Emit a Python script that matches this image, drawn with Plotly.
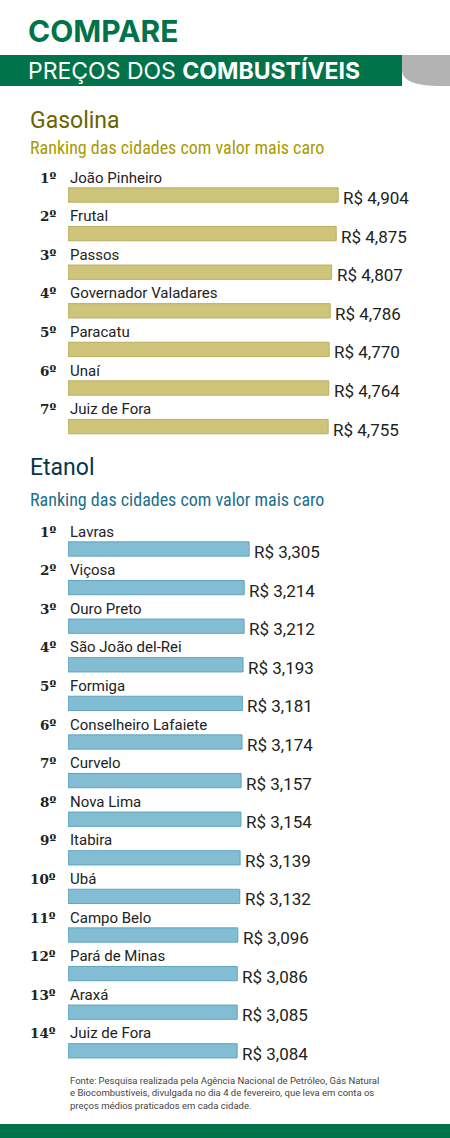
import plotly.graph_objects as go

# dados
gas_cidades = ['João Pinheiro', 'Frutal', 'Passos', 'Governador Valadares', 'Paracatu', 'Unaí', 'Juiz de Fora']
gas_valores = [4.904, 4.875, 4.807, 4.786, 4.770, 4.764, 4.755]
eta_cidades = ['Lavras', 'Viçosa', 'Ouro Preto', 'São João del-Rei', 'Formiga', 'Conselheiro Lafaiete',
               'Curvelo', 'Nova Lima', 'Itabira', 'Ubá', 'Campo Belo', 'Pará de Minas', 'Araxá', 'Juiz de Fora']
eta_valores = [3.305, 3.214, 3.212, 3.193, 3.181, 3.174, 3.157, 3.154, 3.139, 3.132, 3.096, 3.086, 3.085, 3.084]

W, H = 450, 1138
GREEN = '#00734a'
fonte = 'Roboto Condensed, Roboto, Liberation Sans, sans-serif'

fig = go.Figure()

def fmt(v):
    return 'R$ ' + f'{v:.3f}'.replace('.', ',')

def bloco(cidades, valores, xa, ya, cor, borda, x0):
    idx = list(range(len(cidades)))
    fig.add_trace(go.Bar(x=[v - x0 for v in valores], y=idx, orientation='h', base=x0, width=0.37,
                         marker=dict(color=cor, line=dict(color=borda, width=1)),
                         xaxis=xa, yaxis=ya, hoverinfo='skip'))
    for i, (c, v) in enumerate(zip(cidades, valores)):
        fig.add_annotation(x=x0, y=i - 0.45, xref=xa, yref=ya, text=c, showarrow=False,
                           xanchor='left', yanchor='middle', font=dict(size=15, color='#222', family='Roboto'))
        fig.add_annotation(x=0.129, y=i - 0.45, xref='paper', yref=ya, text=f'<b>{i+1}º</b>', showarrow=False,
                           xanchor='right', yanchor='middle', font=dict(size=13.5, color='#222', family='DejaVu Serif'))
        fig.add_annotation(x=v, y=i + 0.08, xref=xa, yref=ya, text=fmt(v), showarrow=False,
                           xanchor='left', yanchor='middle', xshift=3, font=dict(size=17, color='#222', family='Roboto'))

bloco(gas_cidades, gas_valores, 'x', 'y', '#cfc57a', '#b8ad60', 0.88)
bloco(eta_cidades, eta_valores, 'x2', 'y2', '#82bdd3', '#5fa6c0', -0.028)

dom_x = [68 / W, 1]
fig.update_layout(
    width=W, height=H, margin=dict(l=0, r=0, t=0, b=0), showlegend=False,
    plot_bgcolor='white', paper_bgcolor='white',
    xaxis=dict(domain=dom_x, range=[0.88, 6.57], visible=False),
    yaxis=dict(domain=[1 - 445.9 / H, 1 - 175.7 / H], range=[6.5, -0.5], visible=False),
    xaxis2=dict(domain=dom_x, range=[-0.028, 7.0], visible=False, anchor='y2'),
    yaxis2=dict(domain=[1 - 1070.1 / H, 1 - 529.7 / H], range=[13.5, -0.5], visible=False, anchor='x2'),
)

def py(p):
    return 1 - p / H

fig.add_shape(type='rect', xref='paper', yref='paper', x0=0, x1=402 / W, y0=py(86), y1=py(55),
              fillcolor=GREEN, line_width=0)
fig.add_shape(type='path', xref='paper', yref='paper',
              path=f'M {402/W} {py(55)} L 1 {py(55)} L 1 {py(86)} L {440/W} {py(86)} Q {402/W} {py(86)} {402/W} {py(70)} Z',
              fillcolor='#b3b3b3', line_width=0)
fig.add_shape(type='rect', xref='paper', yref='paper', x0=0, x1=1, y0=0, y1=py(1124),
              fillcolor=GREEN, line_width=0)

def txt(x, y, s, size, cor, fam='Roboto', anchor='left'):
    fig.add_annotation(x=x / W, y=py(y), xref='paper', yref='paper', text=s, showarrow=False,
                       xanchor=anchor, yanchor='middle', font=dict(size=size, color=cor, family=fam))

txt(26, 31, '<b>COMPARE</b>', 30, GREEN, 'Inter')
txt(26, 71, 'PREÇOS DOS <b>COMBUSTÍVEIS</b>', 23, 'white', 'Inter')
txt(28, 120, 'Gasolina', 23, '#6b6300', 'Roboto')
txt(28, 148, 'Ranking das cidades com valor mais caro', 18, '#a89a00', fonte)
txt(28, 468, 'Etanol', 23, '#08344a', 'Roboto')
txt(28, 500, 'Ranking das cidades com valor mais caro', 18, '#1b6f8c', fonte)
fig.add_annotation(x=68 / W, y=py(1093), xref='paper', yref='paper', showarrow=False, align='left',
                   xanchor='left', yanchor='middle', font=dict(size=9.5, color='#444', family='Roboto'),
                   text='Fonte: Pesquisa realizada pela Agência Nacional de Petróleo, Gás Natural<br>'
                        'e Biocombustíveis, divulgada no dia 4 de fevereiro, que leva em conta os<br>'
                        'preços médios praticados em cada cidade.')

fig.write_html('out.html', config={'displayModeBar': False},
               post_script="document.body.style.margin='0';")
